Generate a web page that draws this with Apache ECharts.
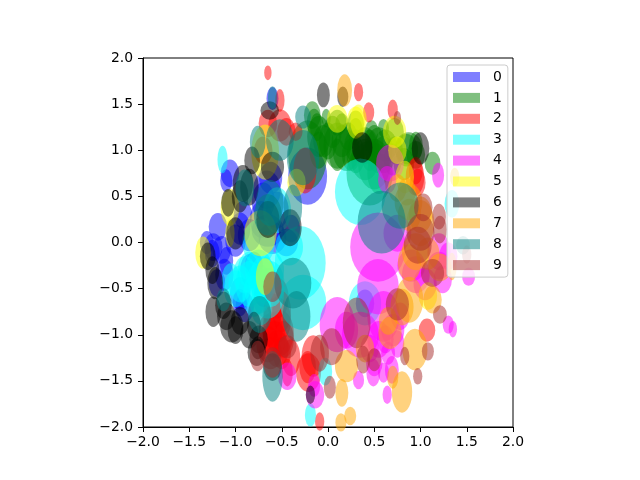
<!DOCTYPE html>
<html><head><meta charset="utf-8">
<style>html,body{margin:0;padding:0;background:#fff}#c{width:640px;height:480px}</style>
<script src="https://cdn.jsdelivr.net/npm/echarts@6/dist/echarts.min.js"></script></head>
<body><div id="c"></div>
<script>
// each row: x, y, width, height in data units
const group0 = [[-.22,.72,.42,.62],[-1.06,.75,.2,.3],[-1.1,.67,.13,.25],[-1.19,.17,.2,.3],[-1.31,0,.15,.25],[-1.24,-.05,.2,.3],[-.66,.57,.3,.42],[-.65,.13,.35,.35],[-.6,1.56,.13,.25],[-.9,-.7,.2,.33],[-1.2,-.44,.18,.3],[-1.1,-.2,.15,.3],[-.85,-.3,.2,.35],[-.95,.15,.22,.35],[-.55,.35,.25,.4],[-.4,.15,.2,.3],[-.7,-.55,.2,.3],[.4,-.66,.2,.3],[-.7,.45,.25,.4],[-.62,.7,.25,.35],[-1.25,-.12,.16,.3],[-1.15,-.08,.2,.3],[-1,.02,.22,.35],[-.85,.08,.25,.35],[-1.12,-.35,.2,.35],[-.95,-.55,.22,.35],[-.95,-.65,.16,.3],[-.72,.25,.25,.4],[-.6,.05,.3,.35],[-.45,.0,.25,.3],[-.92,.3,.2,.3],[-.8,-.25,.2,.3]];
const group1 = [[-.22,.95,.42,.75],[-.17,1.38,.18,.3],[-.12,1.25,.15,.3],[0,1.1,.2,.4],[.1,1.05,.3,.5],[.2,1,.3,.45],[.3,.95,.2,.4],[.4,.9,.3,.45],[.5,.85,.35,.55],[.6,.95,.25,.4],[.55,1,.3,.5],[.7,.9,.2,.35],[.85,1,.25,.35],[.95,1.05,.15,.3],[1.13,.86,.17,.25],[.45,.75,.5,.7],[.47,1.2,.15,.25],[.6,1.24,.12,.2],[.87,1.02,.3,.35],[.15,1.3,.14,.2],[-.05,1.1,.22,.35],[.3,1.2,.16,.3],[-.15,1.3,.16,.3],[-.1,1.15,.25,.45],[-.1,1.0,.2,.4],[.05,1.2,.2,.35],[.15,1.1,.22,.35],[.22,1.15,.2,.3],[.3,1.05,.25,.35],[.4,1.05,.25,.4],[.5,1.1,.2,.35],[.62,1.05,.25,.35],[.72,1.0,.18,.3],[.25,.95,.2,.35],[.1,.95,.18,.35],[.95,.95,.2,.3],[.82,.85,.22,.35],[-.02,1.35,.1,.2],[.45,1.0,.2,.45],[.55,.75,.25,.45],[.1,1.3,.2,.28],[.3,1.28,.18,.3],[.72,1.2,.2,.3]];
const group2 = [[-.65,1.84,.08,.16],[-.52,1.54,.1,.25],[-.52,1.27,.25,.35],[-.65,1.29,.2,.3],[-.35,1.2,.15,.2],[.33,1.63,.1,.2],[.44,1.41,.12,.22],[.7,1.44,.11,.22],[-.55,-.84,.3,.5],[-.52,-.98,.3,.5],[-.65,-1.1,.25,.4],[-.5,-1.2,.2,.35],[-.55,-.6,.25,.45],[-.44,-1.41,.12,.3],[-.16,-1.23,.25,.45],[-.21,-1.41,.27,.42],[-.09,-1.94,.1,.2],[1.07,-.95,.18,.25],[.94,.71,.2,.4],[.97,.65,.17,.3],[-.25,.78,.25,.5],[-.6,-.95,.22,.4],[-.6,-.75,.2,.4],[-.5,-.75,.2,.45],[-.58,-1.05,.25,.4],[-.48,-1.05,.22,.4],[-.62,-1.2,.25,.35],[-.55,-1.15,.25,.4],[-.65,-.95,.2,.35],[-.4,-1.25,.2,.4],[-.22,-1.35,.18,.35],[-.7,1.0,.2,.3],[-.45,1.2,.2,.3],[.95,.78,.15,.3]];
const group3 = [[.35,.55,.55,.72],[-.3,-.22,.55,.8],[-.27,-.65,.5,.6],[-1.14,.9,.11,.3],[.4,-.66,.35,.48],[-.03,-1.4,.15,.3],[-.19,-1.87,.12,.25],[-.85,-.45,.3,.5],[-.75,-.5,.3,.55],[-.65,-.55,.35,.55],[-1,-.5,.25,.4],[-.9,-.35,.25,.4],[-.6,-.3,.25,.4],[-.75,0,.35,.5],[-.42,-.05,.3,.4],[1.34,.42,.16,.3],[-.72,-.72,.22,.35],[-.95,-.45,.25,.4],[-.85,-.3,.25,.4],[-.75,-.3,.3,.45],[-.7,-.4,.3,.5],[-.62,-.45,.3,.5],[-.8,-.58,.25,.45],[-1.05,-.4,.2,.35],[-.55,.35,.3,.5]];
const group4 = [[.54,-.05,.6,.75],[.54,-.48,.45,.6],[.1,-.89,.38,.6],[.35,-1,.4,.5],[.6,-.8,.35,.55],[.5,-1.3,.18,.3],[.64,-1.65,.1,.2],[1.3,-.89,.12,.2],[1.35,-.94,.09,.18],[1.52,-.37,.14,.2],[1.19,.73,.13,.27],[-.44,-1.45,.2,.3],[-.14,-1.65,.2,.3],[.33,-1.49,.12,.2],[.49,-1.41,.15,.3],[.6,-1.41,.12,.22],[.69,-1.38,.15,.3],[1.24,-.4,.2,.3],[.67,.86,.3,.4],[.64,.68,.2,.3],[.95,-.35,.3,.4],[1.2,-.1,.25,.4],[.75,-1.1,.15,.3],[.65,-1.2,.15,.25],[1.3,-.15,.2,.3],[.75,.1,.3,.4],[.55,-1.05,.25,.4],[.7,-.95,.25,.35],[.45,-1.15,.2,.3],[.62,-1.05,.18,.3],[1.05,-.45,.25,.35],[1.2,-.25,.25,.3],[.9,-.25,.3,.35],[.2,-.95,.25,.4],[.78,-.8,.2,.3],[-.15,-1.55,.13,.25]];
const group5 = [[-1.35,-.11,.17,.35],[.33,1.32,.18,.35],[.72,1.2,.25,.35],[.83,.71,.2,.35],[-1.06,.38,.2,.4],[-.68,.98,.3,.6],[-.34,.65,.2,.3],[.1,1.34,.22,.3],[.3,1.3,.2,.35],[-.73,.1,.35,.5],[-1.06,.1,.1,.3],[1.08,-.58,.2,.3],[1.37,.71,.1,.2],[-.68,-.37,.2,.4],[.75,1.0,.2,.3]];
const group6 = [[-.05,1.6,.14,.27],[.16,1.58,.12,.22],[.37,1.03,.22,.33],[1,1.02,.19,.35],[-.82,.89,.17,.3],[-.92,.64,.22,.4],[-.85,.6,.2,.4],[-.6,.82,.25,.33],[-1.08,.43,.15,.3],[-.41,.16,.25,.4],[-1.24,-.75,.17,.33],[-1.13,-.68,.18,.3],[-1.04,-.91,.25,.35],[-.95,-.85,.2,.3],[-.77,-1.19,.2,.3],[-.76,-1.14,.15,.25],[-1.22,-.44,.17,.35],[-.19,-1.65,.1,.2],[-.63,1.43,.2,.2],[-1,.1,.2,.35],[-.6,-1.35,.2,.3],[-1,-.95,.17,.3],[-.85,-1,.2,.3],[-.95,.5,.18,.35],[-1.3,-.15,.17,.3],[-1.25,-.3,.15,.3],[-1.1,-.8,.2,.3],[-.75,-1.05,.2,.3],[-.65,.25,.25,.4],[-.8,-.9,.15,.3]];
const group7 = [[.18,1.65,.16,.35],[.8,-1.62,.22,.45],[.15,-1.63,.14,.3],[.24,-1.88,.13,.2],[.14,-1.95,.12,.2],[.2,-1.34,.25,.35],[.94,-1.16,.27,.45],[.88,-.62,.3,.5],[.8,-.7,.25,.4],[.67,-.98,.25,.35],[1.13,-.62,.2,.3],[.7,-1.46,.12,.25],[.88,-.22,.25,.4],[1.08,-.12,.25,.35],[.87,.44,.3,.4],[1,.21,.3,.5],[.75,.59,.2,.3],[1.21,-.27,.25,.3],[1.34,-.26,.1,.3],[.88,.3,.25,.35],[.85,.55,.2,.3],[1.37,.71,.1,.2],[1.0,.3,.25,.4],[.95,-.1,.3,.4],[.65,-.85,.2,.3],[.4,-1.15,.2,.3]];
const group8 = [[-.27,1.36,.17,.25],[-.52,1.11,.3,.45],[-.27,.92,.35,.6],[-.38,.38,.2,.5],[-.63,.43,.3,.5],[-.76,1.09,.17,.35],[-.9,.59,.2,.4],[-.38,-.44,.4,.55],[-.34,-.8,.3,.55],[-.74,-.78,.25,.4],[-.6,-1.45,.22,.55],[.58,.22,.52,.68],[1.46,-.03,.15,.2],[-1.13,-.62,.15,.25],[.78,.4,.4,.5],[-.6,1.57,.1,.25],[-.65,.3,.3,.45]];
const group9 = [[1.03,.38,.2,.3],[1,.11,.3,.4],[.97,-.03,.3,.4],[1.2,.28,.15,.28],[1.21,.14,.15,.3],[1.13,-.33,.25,.3],[1.5,-.13,.1,.2],[.75,1.35,.08,.15],[1.21,-.78,.15,.2],[1.08,-1.18,.13,.2],[.97,-1.45,.1,.18],[.83,-1.23,.1,.2],[.31,-.87,.3,.55],[.04,-1.13,.25,.4],[.38,-1.27,.15,.3],[.75,-.67,.25,.35],[.5,-1.27,.15,.25],[-.09,-1.2,.2,.4],[.02,-1.57,.13,.25],[-.44,-1.13,.2,.25],[-.6,-1.3,.2,.33],[-.76,-1.23,.17,.33],[-.6,-.48,.2,.33]];
const groups = [group0,group1,group2,group3,group4,group5,group6,group7,group8,group9];
const names = ['0','1','2','3','4','5','6','7','8','9'];
const colors = ['#0000ff','#008000','#ff0000','#00ffff','#ff00ff','#ffff00','#000000','#ffa500','#008080','#a52a2a'];
const ticks = [-2,-1.5,-1,-.5,0,.5,1,1.5,2];

const G = {left:143,top:58,width:370,height:369};
const pxX = G.width/4, pxY = G.height/4;
const chart = echarts.init(document.getElementById('c'),null,{renderer:'canvas'});
const axis = (margin) => ({
  type:'value',min:ticks[0],max:ticks[ticks.length-1],interval:.5,
  splitLine:{show:false},
  axisLine:{show:true,onZero:false,lineStyle:{color:'#000',width:1}},
  axisTick:{show:true,length:5,inside:false,lineStyle:{color:'#000',width:1}},
  axisLabel:{show:true,color:'#000',fontFamily:'DejaVu Sans',fontSize:13.9,margin:margin,hideOverlap:false,
    showMinLabel:true,showMaxLabel:true,
    formatter:v=>(v<0?'\u2212':'')+Math.abs(v).toFixed(1)}
});
chart.setOption({
  animation:false,
  backgroundColor:'#fff',
  grid:Object.assign({show:true,borderColor:'#000',borderWidth:1,backgroundColor:'transparent',containLabel:false},G),
  xAxis:axis(8),yAxis:axis(10),
  legend:{
    show:true,orient:'vertical',left:447,top:65,
    data:names.map(n=>({name:n,icon:'rect'})),
    itemWidth:27,itemHeight:10,itemGap:6.9,
    padding:[5,6,5,6],
    backgroundColor:'rgba(255,255,255,0.8)',borderColor:'#ccc',borderWidth:1,borderRadius:3,
    textStyle:{color:'#000',fontFamily:'DejaVu Sans',fontSize:13.9,padding:[0,0,0,8]},
    z:50
  },
  series:groups.map((g,i)=>({
    type:'scatter',name:names[i],data:g,clip:true,silent:true,
    encode:{x:0,y:1},
    symbol:'circle',
    symbolSize:v=>[v[2]*pxX,v[3]*pxY],
    itemStyle:{color:colors[i],opacity:.5,borderWidth:0},
    emphasis:{disabled:true},z:2+i
  }))
});
</script></body></html>
